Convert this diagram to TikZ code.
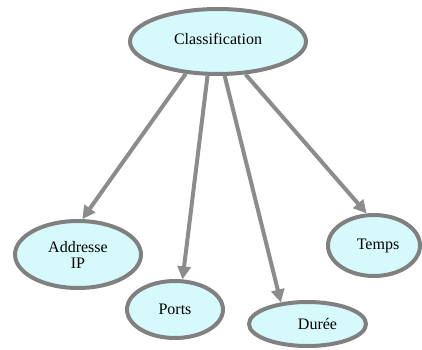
\documentclass[tikz,border=0pt]{standalone}
\usepackage{fontspec}
\setmainfont{Liberation Serif}
\newfontfamily\bubbleface{Liberation Serif}
\usetikzlibrary{shapes.geometric,arrows.meta}
\definecolor{bubblefill}{RGB}{214,250,252}
\definecolor{rimgray}{RGB}{128,128,128}
\definecolor{linkgray}{RGB}{140,140,140}
\tikzset{
  bubble/.style={ellipse, draw=rimgray, line width=4pt, fill=bubblefill,
    inner sep=0pt, align=center, font=\bubbleface\fontsize{16}{16}\selectfont},
  link/.style={draw=linkgray, line width=4pt,
    -{Triangle[length=13pt,width=13pt]}}
}
\begin{document}
\begin{tikzpicture}[x=1pt,y=1pt]
\useasboundingbox (0,0) rectangle (422,349);
% central topic
\node[bubble, minimum width=176pt, minimum height=65pt] (cls) at (218,307.5) {\raisebox{6pt}{Classification}};
% sub-topics
\node[bubble, minimum width=126pt, minimum height=67pt] (ip) at (78,94.5) {Addresse\\IP};
\node[bubble, minimum width=96pt, minimum height=57pt] (ports) at (175,39.5) {Ports};
\node[bubble, minimum width=117pt, minimum height=44pt] (duree) at (307.5,25) {\hspace*{20pt}Durée};
\node[bubble, minimum width=92pt, minimum height=61pt] (temps) at (374,103.5) {\hspace*{8pt}Temps};
% links
\draw[link] (cls.225) -- (ip.83);
\draw[link] (cls.253) -- (ports.76);
\draw[link] (cls.281) -- (duree.141);
\draw[link] (cls.310) -- (temps.103);
\end{tikzpicture}
\end{document}
